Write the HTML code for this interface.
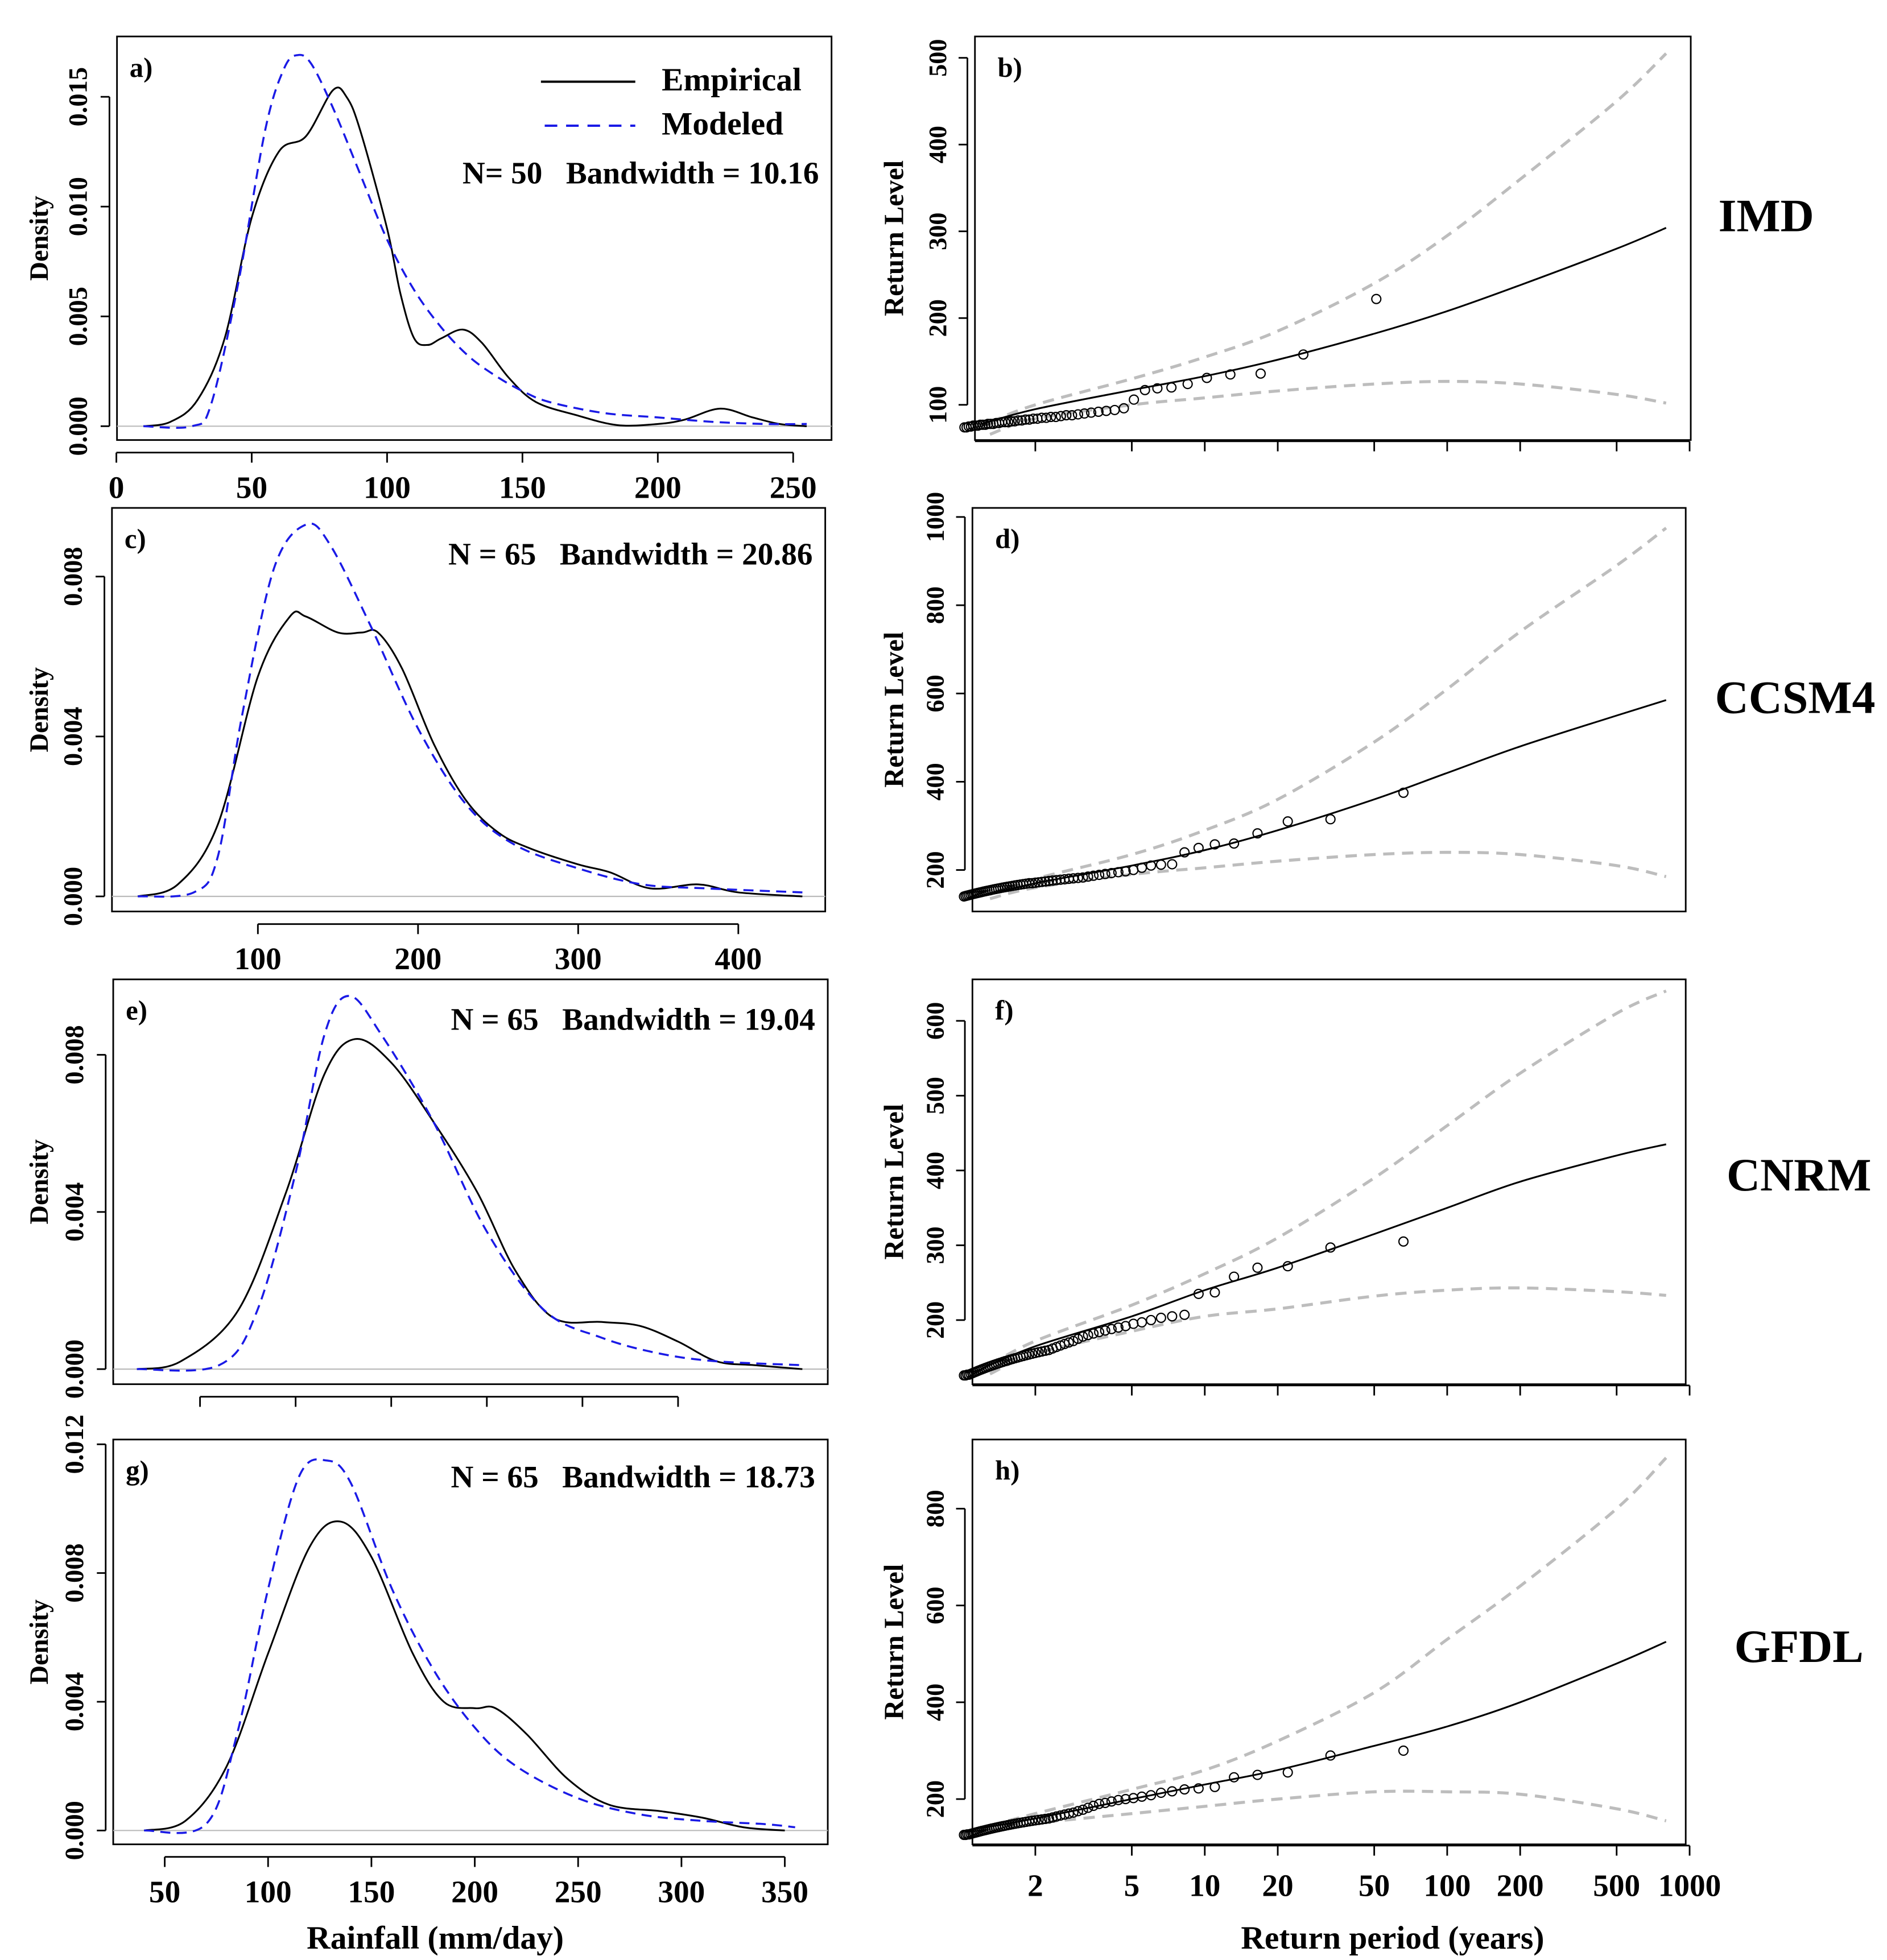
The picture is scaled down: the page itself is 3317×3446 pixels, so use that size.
<!DOCTYPE html>
<html><head><meta charset="utf-8"><style>
html,body{margin:0;padding:0;background:#fff}
svg{display:block}
text{font-family:"Liberation Serif",serif;font-weight:bold;fill:#000;white-space:pre}
</style></head><body>
<svg id="fig" width="3317" height="3446" viewBox="0 0 1500 1559" preserveAspectRatio="none" xmlns="http://www.w3.org/2000/svg"></svg>
<script>
// ---- Density panels data ----
const aEmpX=[10,20,30,40,50,60,70,80,85,90,100,105,110,115,120,128,135,145,155,170,185,200,210,223,235,245,255];
const aEmpY=[0,0.0002,0.0012,0.004,0.0095,0.0125,0.0132,0.0153,0.015,0.0135,0.009,0.006,0.004,0.0037,0.004,0.0044,0.0038,0.0022,0.0011,0.0005,0.00005,0.0001,0.0003,0.0008,0.0004,0.0001,0];
const aModX=[10,28,35,45,55,62,67,72,80,90,100,110,120,130,140,150,160,180,200,220,240,255];
const aModY=[0,0,0.001,0.0065,0.0135,0.0163,0.0169,0.0165,0.0145,0.0115,0.0085,0.0062,0.0045,0.0032,0.0023,0.0016,0.0011,0.0006,0.0004,0.0002,0.0001,0.0001];
const cEmpX=[25,50,75,100,120,130,150,165,175,190,210,230,250,270,300,320,345,375,400,440];
const cEmpY=[0,0.0003,0.0018,0.0055,0.007,0.007,0.0066,0.0066,0.0066,0.0057,0.0038,0.0024,0.0016,0.0012,0.0008,0.0006,0.0002,0.0003,0.0001,0];
const cModX=[25,60,75,90,110,130,145,170,200,230,260,300,340,380,440];
const cModY=[0,0.0001,0.001,0.0045,0.0082,0.0093,0.0088,0.0068,0.0042,0.0023,0.0013,0.0007,0.0003,0.0002,0.0001];
const eEmpX=[17,40,70,95,115,131,150,172,195,215,235,260,280,300,320,340,365];
const eEmpY=[0,0.0002,0.0015,0.0045,0.0075,0.0084,0.0078,0.0063,0.0045,0.0025,0.0013,0.0012,0.0011,0.0007,0.0002,0.0001,0];
const eModX=[17,60,80,100,115,128,145,172,200,230,260,290,320,365];
const eModY=[0,0.0001,0.0015,0.005,0.0085,0.0095,0.0085,0.0063,0.0035,0.0015,0.0008,0.0004,0.0002,0.0001];
const gEmpX=[40,60,80,100,120,135,150,170,185,200,210,225,245,265,290,310,330,350];
const gEmpY=[0,0.0003,0.002,0.0055,0.0088,0.0096,0.0085,0.0055,0.004,0.0038,0.0038,0.003,0.0016,0.0008,0.0006,0.0004,0.0001,0];
const gModX=[40,70,85,100,115,128,140,160,180,200,220,250,280,310,340,355];
const gModY=[0,0.0002,0.003,0.0075,0.011,0.0115,0.0108,0.0075,0.005,0.0032,0.002,0.001,0.0005,0.0003,0.0002,0.0001];
const aXTicks=[0,50,100,150,200,250];
const cXTicks=[100,200,300,400];
const eXTicks=[50,100,150,200,250,300];
const gXTicks=[50,100,150,200,250,300,350];
const aYTicks=["0.000","0.005","0.010","0.015"];
const cYTicks=["0.000","0.004","0.008"];
const gYTicks=["0.000","0.004","0.008","0.012"];
// ---- Return level data ----
const curveT=[1.2,2,5,10,20,50,100,200,500,800];
const bandT=[1.3,2,5,10,20,50,100,200,500,800];
const bLine=[78,95,117,133,152,182,208,238,280,304];
const bUp=[80,100,130,155,185,240,295,360,450,505];
const bLo=[66,84,100,108,116,124,127,124,112,102];
const bPts=[222,158,136,135,131,124,120,119,117,106,96,94,93,92,91,90,89,88,88,87,86,86,85,85,84,84,83,83,82,82,81,81,80,80,80,79,79,78,78,78,77,77,77,76,76,76,75,75,74,74];
const dLine=[140,170,210,245,290,360,420,480,550,585];
const dUp=[145,180,235,290,360,490,610,740,890,975];
const dLo=[135,160,190,205,220,235,240,235,210,185];
const dPts=[375,315,310,283,260,258,250,240,213,212,210,205,200,197,195,193,191,189,187,185,183,182,181,180,179,178,177,176,175,174,173,172,171,170,170,169,168,167,166,165,164,163,162,161,160,159,158,157,156,155,154,153,152,151,150,149,148,147,146,145,144,143,142,141,140];
const fLine=[135,165,205,240,270,315,350,385,420,435];
const fUp=[140,172,220,262,310,390,460,530,610,640];
const fLo=[128,155,185,205,215,232,240,243,238,233];
const fPts=[305,297,272,270,258,237,235,207,205,203,200,197,195,192,190,188,186,184,182,180,178,175,172,170,168,166,164,162,160,159,158,157,156,155,154,153,152,151,150,149,148,147,146,145,144,143,142,141,140,139,138,137,136,135,134,133,132,131,130,129,128,127,127,126,126];
const hLine=[140,160,200,230,260,310,350,400,480,525];
const hUp=[145,170,220,260,320,420,530,640,800,905];
const hLo=[135,150,170,185,200,215,215,210,180,155];
const hPts=[300,290,255,250,245,225,222,220,216,213,208,205,202,200,198,195,192,190,186,182,178,175,172,170,168,166,164,162,160,159,158,157,156,155,154,153,152,151,150,149,148,147,146,145,144,143,142,141,140,139,138,137,136,135,134,133,132,131,130,129,128,127,127,126,126];
const bYTicks=[100,200,300,400,500];
const dYTicks=[200,400,600,800,1000];
const fYTicks=[200,300,400,500,600];
const hYTicks=[200,400,600,800];
const tTicks=[2,5,10,20,50,100,200,500,1000];

const NS="http://www.w3.org/2000/svg";
const svg=document.getElementById('fig');
function mk(tag,attrs,parent){const e=document.createElementNS(NS,tag);for(const k in attrs)e.setAttribute(k,attrs[k]);(parent||svg).appendChild(e);return e;}
function txt(s,x,y,size,opts,parent){const t=mk('text',Object.assign({x:x,y:y,'font-size':size},opts||{}),parent);t.textContent=s;return t;}
function smooth(pts){let d='M'+pts[0][0].toFixed(2)+','+pts[0][1].toFixed(2);
 for(let i=0;i<pts.length-1;i++){const p0=pts[Math.max(0,i-1)],p1=pts[i],p2=pts[i+1],p3=pts[Math.min(pts.length-1,i+2)];
 const c1=[p1[0]+(p2[0]-p0[0])/6,p1[1]+(p2[1]-p0[1])/6],c2=[p2[0]-(p3[0]-p1[0])/6,p2[1]-(p3[1]-p1[1])/6];
 d+='C'+c1[0].toFixed(2)+','+c1[1].toFixed(2)+' '+c2[0].toFixed(2)+','+c2[1].toFixed(2)+' '+p2[0].toFixed(2)+','+p2[1].toFixed(2);}return d;}

function densityPanel(P){
 const g=mk('g',{});
 
 
 const X=v=>P.x0+v*P.xs, Y=v=>P.y0-v*P.ys;
 const box=mk('rect',{x:P.box[0],y:P.box[1],width:P.box[2]-P.box[0],height:P.box[3]-P.box[1],fill:'none',stroke:'#000','stroke-width':1.3},g);
 
 
 mk('line',{x1:P.box[0],x2:P.box[2],y1:Y(0),y2:Y(0),stroke:'#bbb','stroke-width':1},g);
 const yax=mk('g',{},g);
 
 
 const yv=P.yTicks.map(Number);
 const ax=P.box[0]-6;
 mk('line',{x1:ax,x2:ax,y1:Y(yv[0]),y2:Y(yv[yv.length-1]),stroke:'#000','stroke-width':1.3},yax);
 P.yTicks.forEach((s,i)=>{const y=Y(yv[i]);mk('line',{x1:ax-7,x2:ax,y1:y,y2:y,stroke:'#000','stroke-width':1.3},yax);
  const t=txt(s,0,0,21,{transform:`translate(${ax-18},${y}) rotate(-90)`,'text-anchor':'middle'},yax);
  
  });
 const yt=txt('Density',0,0,21,{transform:`translate(38,${(P.box[1]+P.box[3])/2}) rotate(-90)`,'text-anchor':'middle'},g);
 
 
 const xax=mk('g',{},g);
 
 
 const ay=P.box[3]+10;
 mk('line',{x1:X(P.xTicks[0]),x2:X(P.xTicks[P.xTicks.length-1]),y1:ay,y2:ay,stroke:'#000','stroke-width':1.3},xax);
 P.xTicks.forEach(v=>{mk('line',{x1:X(v),x2:X(v),y1:ay,y2:ay+8,stroke:'#000','stroke-width':1.3},xax);
  if(P.showX){const t=txt(String(v),X(v),ay+36,25,{'text-anchor':'middle'},xax);
  
  }});
 const e=mk('path',{d:smooth(P.empX.map((v,i)=>[X(v),Y(P.empY[i])])),fill:'none',stroke:'#000','stroke-width':1.4},g);
 
 
 const m=mk('path',{d:smooth(P.modX.map((v,i)=>[X(v),Y(P.modY[i])])),fill:'none',stroke:'#1a1ae6','stroke-width':1.6,'stroke-dasharray':'8,5'},g);
 
 
 const l=txt(P.label,P.box[0]+10,P.box[1]+32,22,{},g);
 
 
 const s=txt(P.stat,P.box[2]-10,P.statY,25,{'text-anchor':'end'},g);
 
 
 return g;
}
function rlPanel(P){
 const g=mk('g',{});
 
 
 const X=T=>823+192.7*(Math.log10(T)-Math.log10(2));
 const Y=v=>P.y0-(v-P.v0)*P.ys;
 const box=mk('rect',{x:P.box[0],y:P.box[1],width:P.box[2]-P.box[0],height:P.box[3]-P.box[1],fill:'none',stroke:'#000','stroke-width':1.3},g);
 
 
 const yax=mk('g',{},g);
 
 
 const ax=P.box[0]-6;
 mk('line',{x1:ax,x2:ax,y1:Y(P.yTicks[0]),y2:Y(P.yTicks[P.yTicks.length-1]),stroke:'#000','stroke-width':1.3},yax);
 P.yTicks.forEach(v=>{const y=Y(v);mk('line',{x1:ax-7,x2:ax,y1:y,y2:y,stroke:'#000','stroke-width':1.3},yax);
  const t=txt(String(v),0,0,20,{transform:`translate(${ax-17},${y}) rotate(-90)`,'text-anchor':'middle'},yax);
  
  });
 const yt=txt('Return Level',0,0,22,{transform:`translate(718,${(P.box[1]+P.box[3])/2}) rotate(-90)`,'text-anchor':'middle'},g);
 
 
 if(P.showTicks){const xax=mk('g',{},g);
  
  
  const ay=P.box[3]+1;
  mk('line',{x1:P.box[0],x2:X(1000),y1:ay,y2:ay,stroke:'#000','stroke-width':1.3},xax);
  tTicks.forEach(v=>{mk('line',{x1:X(v),x2:X(v),y1:ay,y2:ay+8,stroke:'#000','stroke-width':1.3},xax);
   if(P.showX){const t=txt(String(v),X(v),ay+40,25,{'text-anchor':'middle'},xax);
   
   }});}
 const up=mk('path',{d:smooth(bandT.map((T,i)=>[X(T),Y(P.up[i])])),fill:'none',stroke:'#bdbdbd','stroke-width':2.4,'stroke-dasharray':'9,6'},g);
 
 
 const lo=mk('path',{d:smooth(bandT.map((T,i)=>[X(T),Y(P.lo[i])])),fill:'none',stroke:'#bdbdbd','stroke-width':2.4,'stroke-dasharray':'9,6'},g);
 
 
 const ln=mk('path',{d:smooth(curveT.map((T,i)=>[X(T),Y(P.line[i])])),fill:'none',stroke:'#000','stroke-width':1.4},g);
 
 
 const n=P.pts.length;
 P.pts.forEach((v,i)=>{const c=mk('circle',{cx:X((n+1)/(i+1)),cy:Y(v),r:3.6,fill:'none',stroke:'#000','stroke-width':1},g);
  
  });
 const l=txt(P.label,P.box[0]+18,P.box[1]+32,22,{},g);
 
 
 const m=txt(P.model,P.mx,P.my,37,{'text-anchor':'middle'},g);
 
 
}
densityPanel({name:'panel-a-density',box:[93,29,661,350],x0:92.5,xs:2.152,y0:339,ys:17467,xTicks:aXTicks,yTicks:aYTicks,showX:true,empX:aEmpX,empY:aEmpY,modX:aModX,modY:aModY,label:'a)',stat:'N= 50   Bandwidth = 10.16',statY:146});
densityPanel({name:'panel-c-density',box:[89,404,656,725],x0:77.7,xs:1.273,y0:713,ys:31800,xTicks:cXTicks,yTicks:cYTicks,showX:true,empX:cEmpX,empY:cEmpY,modX:cModX,modY:cModY,label:'c)',stat:'N = 65   Bandwidth = 20.86',statY:449});
densityPanel({name:'panel-e-density',box:[90,779,658,1101],x0:83,xs:1.52,y0:1089,ys:31250,xTicks:eXTicks,yTicks:cYTicks,showX:false,empX:eEmpX,empY:eEmpY,modX:eModX,modY:eModY,label:'e)',stat:'N = 65   Bandwidth = 19.04',statY:819});
densityPanel({name:'panel-g-density',box:[90,1145,658,1467],x0:48.8,xs:1.643,y0:1456,ys:25600,xTicks:gXTicks,yTicks:gYTicks,showX:true,empX:gEmpX,empY:gEmpY,modX:gModX,modY:gModY,label:'g)',stat:'N = 65   Bandwidth = 18.73',statY:1183});
const lg=mk('g',{});


mk('line',{x1:430,x2:505,y1:65,y2:65,stroke:'#000','stroke-width':1.8},lg);
txt('Empirical',526,72,26,{},lg);
mk('line',{x1:433,x2:505,y1:100,y2:100,stroke:'#1a1ae6','stroke-width':1.8,'stroke-dasharray':'10,7'},lg);
txt('Modeled',526,107,26,{},lg);

rlPanel({name:'panel-b-return-level',box:[775,29,1344,350],y0:322,v0:100,ys:0.69,yTicks:bYTicks,line:bLine,up:bUp,lo:bLo,pts:bPts,label:'b)',model:'IMD',mx:1404,my:184,showTicks:true,showX:false});
rlPanel({name:'panel-d-return-level',box:[773,404,1340,725],y0:692,v0:200,ys:0.351,yTicks:dYTicks,line:dLine,up:dUp,lo:dLo,pts:dPts,label:'d)',model:'CCSM4',mx:1427,my:567,showTicks:false});
rlPanel({name:'panel-f-return-level',box:[773,779,1340,1101],y0:1050,v0:200,ys:0.595,yTicks:fYTicks,line:fLine,up:fUp,lo:fLo,pts:fPts,label:'f)',model:'CNRM',mx:1430,my:947,showTicks:true,showX:false});
rlPanel({name:'panel-h-return-level',box:[773,1145,1340,1467],y0:1431,v0:200,ys:0.385,yTicks:hYTicks,line:hLine,up:hUp,lo:hLo,pts:hPts,label:'h)',model:'GFDL',mx:1430,my:1322,showTicks:true,showX:true});

const xt1=txt('Rainfall (mm/day)',346,1550,26,{'text-anchor':'middle'});


const xt2=txt('Return period (years)',1107,1550,26,{'text-anchor':'middle'});


</script>
</body></html>
